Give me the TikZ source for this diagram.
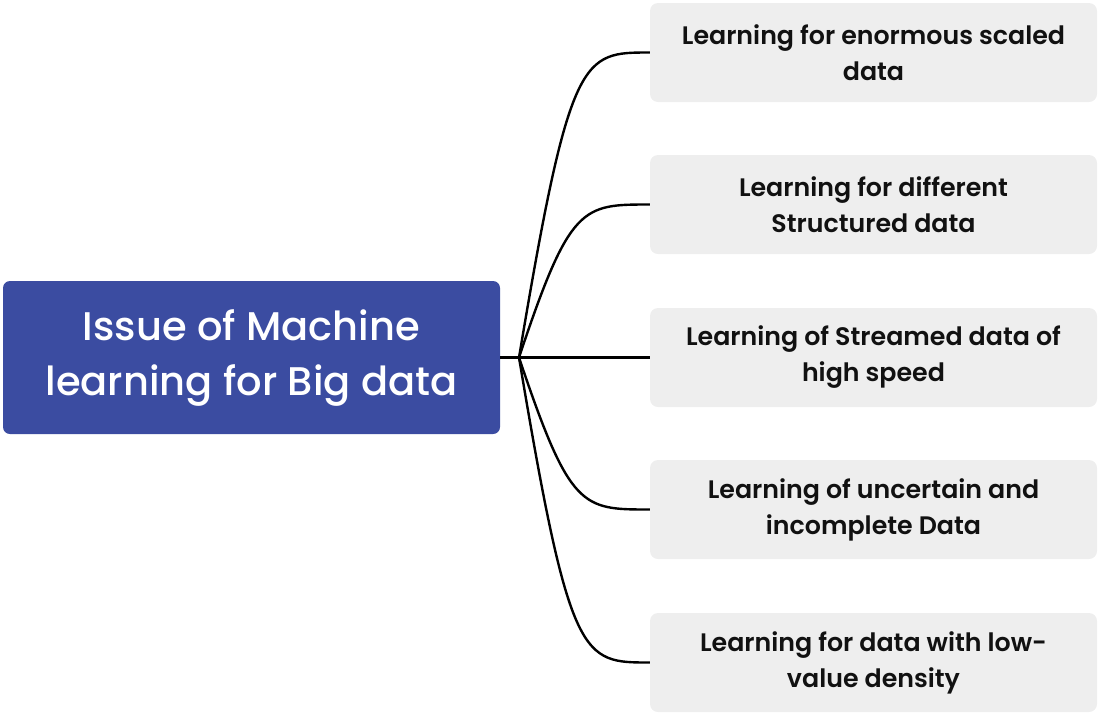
\documentclass[tikz,border=0pt]{standalone}
\usepackage{fontspec}
\setmainfont{Poppins}
\newfontfamily\medfont{Poppins Medium}
\newfontfamily\semifont{Poppins SemiBold}
\definecolor{mainblue}{RGB}{59,76,161}
\definecolor{leafgray}{RGB}{238,238,238}
\definecolor{leaftext}{RGB}{17,17,17}
\begin{document}
\begin{tikzpicture}[x=1pt,y=-1pt,
  mainbox/.style={fill=mainblue, rounded corners=7pt, minimum width=497pt, minimum height=153pt,
    text=white, font=\medfont\fontsize{40}{55}\selectfont, align=center, inner sep=0pt},
  leaf/.style={fill=leafgray, rounded corners=8pt, minimum width=447pt, minimum height=99pt,
    text=leaftext, align=center, font=\semifont\fontsize{25.3}{36}\selectfont, inner sep=0pt},
  conn/.style={line width=2.4pt, black}]
\useasboundingbox (0,0) rectangle (1101,716);
\node[mainbox] (main) at (251.5,357.5) {Issue of Machine\\learning for Big data};
\node[leaf] (l1) at (873.5,52.5) {Learning for enormous scaled\\data};
\node[leaf] (l2) at (873.5,204.5) {Learning for different\\Structured data};
\node[leaf] (l3) at (873.5,357.5) {Learning of Streamed data of\\high speed};
\node[leaf] (l4) at (873.5,509.5) {Learning of uncertain and\\incomplete Data};
\node[leaf] (l5) at (873.5,662.5) {Learning for data with low-\\value density};
\coordinate (hub) at (519,357.5);
\draw[conn] (main.east) -- (hub) -- (l3.west);
\draw[conn] (hub) .. controls (570,52.5) and (582,52.5) .. (l1.west);
\draw[conn] (hub) .. controls (570,204.5) and (582,204.5) .. (l2.west);
\draw[conn] (hub) .. controls (570,509.5) and (582,509.5) .. (l4.west);
\draw[conn] (hub) .. controls (570,662.5) and (582,662.5) .. (l5.west);
\end{tikzpicture}
\end{document}
